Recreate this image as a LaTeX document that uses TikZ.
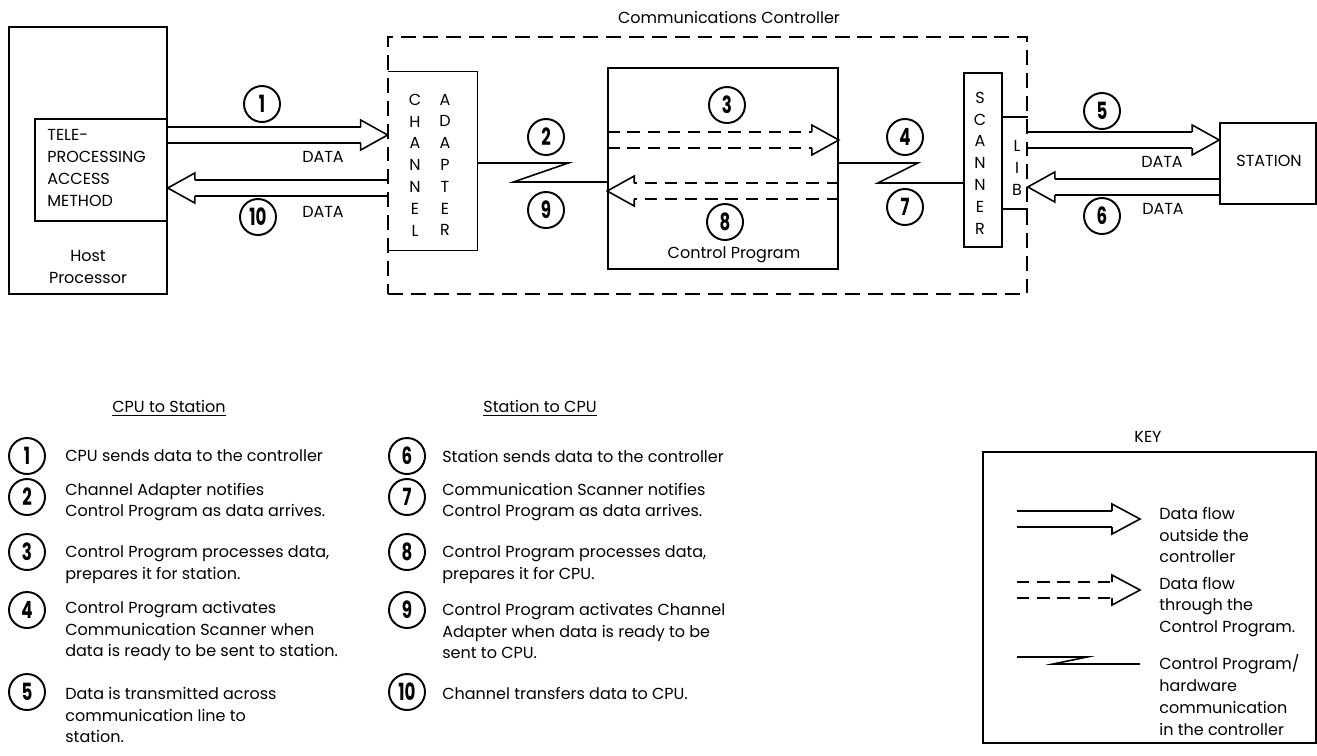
\documentclass[tikz,border=0pt]{standalone}
\usepackage{fontspec}
\setmainfont{Poppins}
\usetikzlibrary{calc,fit}

\newcommand\stepno[1]{\scalebox{0.7}[1]{\fontsize{13.5}{13.5}\selectfont\bfseries #1}}
% two-line data arrow: [shaft style]{tail}{tip}{x offset of head base}
\newcommand\flowarrow[4][shaft]{%
	\draw[#1] ($(#2)+(0,-8)$) -- ($(#3)+(#4,-8)$) ($(#2)+(0,8)$) -- ($(#3)+(#4,8)$);
	\draw[shaft] ($(#3)+(#4,-8)$) -- ($(#3)+(#4,-15)$) -- (#3) -- ($(#3)+(#4,15)$) -- ($(#3)+(#4,8)$);
}

\begin{document}
\begin{tikzpicture}[x=0.02cm, y=-0.02cm,
		box/.style={draw, line width=0.9pt, inner sep=0pt},
		frame/.style={draw, line width=0.9pt, dash pattern=on 8.5pt off 4.5pt, inner sep=0pt},
		txt/.style={inner sep=0pt, font=\fontsize{9.1}{12.4}\selectfont},
		num/.style={draw, circle, line width=1.1pt, minimum size=0.72cm, inner sep=0pt},
		shaft/.style={line width=0.9pt},
		dshaft/.style={line width=0.9pt, dash pattern=on 7pt off 4.5pt}]
		\useasboundingbox (0,0) rectangle (1317,755);
		% host side
		\node[box, fit={(9,27) (167,294)}] (host) {};
		\node[box, fit={(35,119) (167,221)}] (tpam) {};
		\node[txt, anchor=west, align=left] (tpamtxt) at (47,168) {TELE-\\PROCESSING\\ACCESS\\METHOD};
		\node[txt, align=center] (hosttxt) at (88,267) {Host\\Processor};
		% controller
		\node[frame, fit={(388,37) (1027,294)}] (ctrl) {};
		\node[txt] (ctrltxt) at (729,17) {Communications Controller};
		\node[fit={(388,72) (477,250)}, inner sep=0pt] (adapter) {};
		\draw[shaft] (adapter.north west) -- (adapter.north east) -- (adapter.south east) -- (adapter.south west);
		\node[txt, align=center] (chan) at (415,165) {C\\H\\A\\N\\N\\E\\L};
		\node[txt, align=center] (adap) at (445,165) {A\\D\\A\\P\\T\\E\\R};
		\node[box, fit={(608,68) (838,269)}] (cp) {};
		\node[txt] (cptxt) at (734,255) {Control Program};
		\node[box, fit={(964,73) (1002,247)}] (scanner) {};
		\node[txt, align=center] (scantxt) at (980,163) {S\\C\\A\\N\\N\\E\\R};
		\draw[shaft] (scanner.east |- 0,117) -- (ctrl.east |- 0,117);
		\draw[shaft] (scanner.east |- 0,209) -- (ctrl.east |- 0,209);
		\node[txt, align=center] (lib) at (1017,168) {L\\I\\B};
		\node[box, fit={(1220,123) (1316,204)}] (station) {};
		\node[txt] (stattxt) at (1269,161) {STATION};
		% data flow
		\flowarrow{tpam.east |- 0,135}{adapter.west |- 0,135}{-27}
		\flowarrow{adapter.west |- 0,188}{tpam.east |- 0,188}{27}
		\flowarrow[dshaft]{cp.west |- 0,140}{cp.east |- 0,140}{-27}
		\flowarrow[dshaft]{cp.east |- 0,191}{cp.west |- 0,191}{27}
		\flowarrow{ctrl.east |- 0,140}{station.west |- 0,140}{-27}
		\flowarrow{station.west |- 0,187}{ctrl.east |- 0,187}{27}
		\draw[shaft] (adapter.east |- 0,163) -- ++(91,0) -- ++(-55,19) -- (cp.west |- 0,182);
		\draw[shaft] (cp.east |- 0,163) -- ++(79,0) -- ++(-40,20) -- (scanner.west |- 0,183);
		\node[txt] (data1) at (323,157) {DATA};
		\node[txt] (data10) at (323,212) {DATA};
		\node[txt] (data5) at (1162,162) {DATA};
		\node[txt] (data6) at (1163,209) {DATA};
		\node[num] (n1) at (262,104) {\stepno{1}};
		\node[num] (n10) at (258,217) {\stepno{10}};
		\node[num] (n2) at (546,137) {\stepno{2}};
		\node[num] (n9) at (546,210) {\stepno{9}};
		\node[num] (n3) at (727,105) {\stepno{3}};
		\node[num] (n8) at (725,222) {\stepno{8}};
		\node[num] (n4) at (905,137) {\stepno{4}};
		\node[num] (n7) at (905,207) {\stepno{7}};
		\node[num] (n5) at (1102,111) {\stepno{5}};
		\node[num] (n6) at (1102,216) {\stepno{6}};
		% legend, CPU to station
		\node[txt] (head1) at (169,408) {\underline{CPU to Station}};
		\node[num] (l1) at (27,456) {\stepno{1}};
		\node[num] (l2) at (27,497) {\stepno{2}};
		\node[num] (l3) at (27,552) {\stepno{3}};
		\node[num] (l4) at (27,610) {\stepno{4}};
		\node[num] (l5) at (27,692) {\stepno{5}};
		\node[txt, anchor=west] (t1) at (65,456) {CPU sends data to the controller};
		\node[txt, anchor=west, align=left] (t2) at (65,502) {Channel Adapter notifies\\Control Program as data arrives.};
		\node[txt, anchor=west, align=left] (t3) at (65,565) {Control Program processes data,\\prepares it for station.};
		\node[txt, anchor=west, align=left] (t4) at (65,631) {Control Program activates\\Communication Scanner when\\data is ready to be sent to station.};
		\node[txt, anchor=west, align=left] (t5) at (65,715) {Data is transmitted across\\communication line to\\station.};
		% legend, station to CPU
		\node[txt] (head2) at (540,408) {\underline{Station to CPU}};
		\node[num] (l6) at (407,456) {\stepno{6}};
		\node[num] (l7) at (407,497) {\stepno{7}};
		\node[num] (l8) at (407,552) {\stepno{8}};
		\node[num] (l9) at (407,610) {\stepno{9}};
		\node[num] (l10) at (407,692) {\stepno{10}};
		\node[txt, anchor=west] (t6) at (442,456) {Station sends data to the controller};
		\node[txt, anchor=west, align=left] (t7) at (442,502) {Communication Scanner notifies\\Control Program as data arrives.};
		\node[txt, anchor=west, align=left] (t8) at (442,565) {Control Program processes data,\\prepares it for CPU.};
		\node[txt, anchor=west, align=left] (t9) at (442,631) {Control Program activates Channel\\Adapter when data is ready to be\\sent to CPU.};
		\node[txt, anchor=west] (t10) at (442,693) {Channel transfers data to CPU.};
		% key
		\node[txt] (keytxt) at (1148,437) {KEY};
		\node[box, fit={(983,452) (1316,743)}] (key) {};
		\coordinate (k1a) at (1017,519);
		\coordinate (k1b) at (1140,519);
		\coordinate (k2a) at (1017,590);
		\coordinate (k2b) at (1140,590);
		\flowarrow{k1a}{k1b}{-28}
		\flowarrow[dshaft]{k2a}{k2b}{-28}
		\draw[shaft] (1017,657) -- (1087,657) -- (1053,664) -- (1140,664);
		\node[txt, anchor=west, align=left] (k1) at (1159,535) {Data flow\\outside the\\controller};
		\node[txt, anchor=west, align=left] (k2) at (1159,607) {Data flow\\through the\\Control Program.};
		\node[txt, anchor=west, align=left] (k3) at (1159,695) {Control Program/\\hardware\\communication\\in the controller};
	\end{tikzpicture}
\end{document}
